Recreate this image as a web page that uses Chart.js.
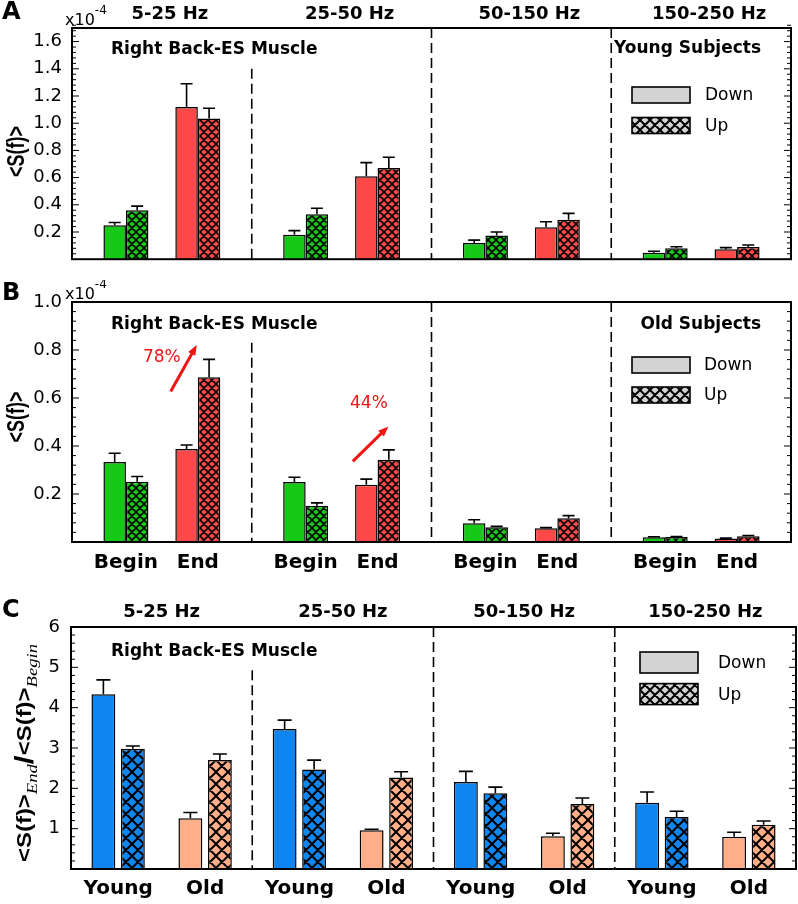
<!DOCTYPE html>
<html>
<head>
<meta charset="utf-8">
<script src="https://cdn.jsdelivr.net/npm/chart.js@4.4.1/dist/chart.umd.min.js"></script>
<style>
  body { margin: 0; background: #fff; }
  #page { position: relative; width: 798px; height: 904px; }
  .panel { position: absolute; left: 0; width: 798px; }
</style>
</head>
<body>
<div id="page">
  <div class="panel" style="top:0;height:280px"><canvas id="chartA"></canvas></div>
  <div class="panel" style="top:280px;height:300px"><canvas id="chartB"></canvas></div>
  <div class="panel" style="top:580px;height:324px"><canvas id="chartC"></canvas></div>
</div>
<script>
const bands = ["5-25 Hz", "25-50 Hz", "50-150 Hz", "150-250 Hz"];
const stageLabels = ["Begin", "End"];
const ageLabels = ["Young", "Old"];
const seriesLabels = ["Down", "Up"];

// panel A: young subjects, <S(f)> in units of 1e-4
const youngBeginDown = [0.25, 0.18, 0.12, 0.047];
const youngBeginUp = [0.36, 0.33, 0.175, 0.08];
const youngEndDown = [1.12, 0.61, 0.235, 0.073];
const youngEndUp = [1.035, 0.67, 0.29, 0.09];
const youngBeginDownErr = [0.02, 0.03, 0.02, 0.012];
const youngBeginUpErr = [0.03, 0.045, 0.025, 0.012];
const youngEndDownErr = [0.17, 0.10, 0.04, 0.012];
const youngEndUpErr = [0.075, 0.08, 0.047, 0.014];

// panel B: old subjects, <S(f)> in units of 1e-4
const oldBeginDown = [0.333, 0.25, 0.078, 0.02];
const oldBeginUp = [0.251, 0.151, 0.061, 0.021];
const oldEndDown = [0.387, 0.239, 0.057, 0.015];
const oldEndUp = [0.686, 0.343, 0.099, 0.024];
const oldBeginDownErr = [0.037, 0.02, 0.015, 0.002];
const oldBeginUpErr = [0.022, 0.012, 0.004, 0.002];
const oldEndDownErr = [0.017, 0.023, 0.003, 0.001];
const oldEndUpErr = [0.075, 0.041, 0.011, 0.003];

// panel C: <S(f)>End / <S(f)>Begin
const ratioYoungDown = [4.33, 3.47, 2.16, 1.64];
const ratioYoungUp = [2.98, 2.47, 1.88, 1.29];
const ratioOldDown = [1.26, 0.96, 0.81, 0.80];
const ratioOldUp = [2.70, 2.27, 1.61, 1.10];
const ratioYoungDownErr = [0.36, 0.22, 0.26, 0.27];
const ratioYoungUpErr = [0.07, 0.23, 0.15, 0.14];
const ratioOldDownErr = [0.14, 0.025, 0.075, 0.11];
const ratioOldUpErr = [0.15, 0.14, 0.15, 0.09];

// percent change notes in panel B (data units)
const noteTexts = ["78%", "44%"];
const noteTextPos = [[0.0, 0.751], [1.152, 0.56]];
const noteArrowFrom = [[0.049, 0.627], [1.062, 0.336]];
const noteArrowTo = [[0.194, 0.821], [1.26, 0.481]];

// tops of the dashed band separators
const dividerTopsA = [1.4, 1.7, 1.7];
const dividerTopsB = [0.83, 1.0, 1.0];
const dividerTopsC = [4.93, 6, 6];

const green = "#17c917";
const red = "#ff4848";
const blue = "#0f86ef";
const salmon = "#ffae87";
const grey = "#d3d3d3";
const sans = "'DejaVu Sans', sans-serif";

function hatch(color, size, lw) {
    const c = document.createElement("canvas");
    c.width = size;
    c.height = size;
    const g = c.getContext("2d");
    g.fillStyle = color;
    g.fillRect(0, 0, size, size);
    g.strokeStyle = "#000";
    g.lineWidth = lw;
    g.beginPath();
    for (let k = -1; k <= 1; k++) {
        g.moveTo(k * size, 0);
        g.lineTo(k * size + size, size);
        g.moveTo(k * size, size);
        g.lineTo(k * size + size, 0);
    }
    g.stroke();
    return g.createPattern(c, "repeat");
}

function clusterPoints(left, right, off) {
    const pts = [];
    left.forEach((v, i) => {
        pts.push({ x: i - off, y: v });
        pts.push({ x: i + off, y: right[i] });
    });
    return pts;
}

function interleave(left, right) {
    const out = [];
    left.forEach((v, i) => out.push(v, right[i]));
    return out;
}

function alternate(a, b) {
    return bands.flatMap(() => [a, b]);
}

function put(ctx, text, x, y, font, color, align) {
    ctx.font = font;
    ctx.fillStyle = color || "#000";
    ctx.textAlign = align || "left";
    ctx.textBaseline = "alphabetic";
    ctx.fillText(text, x, y);
}

function arrow(ctx, x1, y1, x2, y2, color) {
    const ang = Math.atan2(y2 - y1, x2 - x1);
    const head = 11;
    ctx.strokeStyle = color;
    ctx.fillStyle = color;
    ctx.lineWidth = 3;
    ctx.beginPath();
    ctx.moveTo(x1, y1);
    ctx.lineTo(x2 - head * 0.7 * Math.cos(ang), y2 - head * 0.7 * Math.sin(ang));
    ctx.stroke();
    ctx.beginPath();
    ctx.moveTo(x2, y2);
    ctx.lineTo(x2 - head * Math.cos(ang - 0.38), y2 - head * Math.sin(ang - 0.38));
    ctx.lineTo(x2 - head * Math.cos(ang + 0.38), y2 - head * Math.sin(ang + 0.38));
    ctx.closePath();
    ctx.fill();
}

function drawRatioTitle(ctx, cx, cy) {
    const parts = [
        { t: "<S(f)>", f: "bold 18px 'Liberation Sans'", dy: 0 },
        { t: "End", f: "italic 14px 'Liberation Serif'", dy: 5 },
        { t: "/", f: "bold 24px 'Liberation Sans'", dy: 2 },
        { t: "<S(f)>", f: "bold 18px 'Liberation Sans'", dy: 0 },
        { t: "Begin", f: "italic 14px 'Liberation Serif'", dy: 5 }
    ];
    ctx.save();
    ctx.translate(cx, cy);
    ctx.rotate(-Math.PI / 2);
    ctx.scale(1.33, 1.1);
    let total = 0;
    parts.forEach(p => {
        ctx.font = p.f;
        p.w = ctx.measureText(p.t).width;
        total += p.w;
    });
    let x = -total / 2;
    ctx.fillStyle = "#000";
    ctx.textAlign = "left";
    ctx.textBaseline = "alphabetic";
    parts.forEach(p => {
        ctx.font = p.f;
        ctx.fillText(p.t, x, p.dy);
        x += p.w;
    });
    ctx.restore();
}

// error bars, frame with inner ticks, legend and labels
const decor = {
    id: "decor",
    afterDatasetsDraw(chart, args, o) {
        const ctx = chart.ctx;
        const a = chart.chartArea;
        const xs = chart.scales.x;
        const ys = chart.scales.y;
        ctx.save();

        chart.data.datasets.forEach((ds, di) => {
            if (!ds.errors) return;
            const meta = chart.getDatasetMeta(di);
            meta.data.forEach((bar, i) => {
                const top = ys.getPixelForValue(ds.data[i].y + ds.errors[i]);
                ctx.beginPath();
                ctx.moveTo(bar.x, bar.y);
                ctx.lineTo(bar.x, top);
                ctx.moveTo(bar.x - o.cap, top);
                ctx.lineTo(bar.x + o.cap, top);
                ctx.lineWidth = 1.6;
                ctx.strokeStyle = "#000";
                ctx.stroke();
            });
        });

        ctx.strokeStyle = "#000";
        ctx.lineWidth = 2;
        ctx.strokeRect(a.left, a.top, a.right - a.left, a.bottom - a.top);
        ctx.lineWidth = 1;
        ctx.beginPath();
        const n = Math.round(ys.max / o.minor);
        for (let k = 1; k <= n; k++) {
            const v = k * o.minor;
            const y = ys.getPixelForValue(v);
            const r = v / o.major;
            const len = Math.abs(r - Math.round(r)) < 1e-6 ? 7 : 4;
            ctx.moveTo(a.left, y);
            ctx.lineTo(a.left + len, y);
            ctx.moveTo(a.right, y);
            ctx.lineTo(a.right - len, y);
        }
        ctx.stroke();

        // legend inside the plot
        const L = o.legend;
        const names = chart.data.datasets.filter(d => d.type === "bar").map(d => d.label);
        const fills = [grey, hatch(grey, 10, 2)];
        names.forEach((name, k) => {
            const lx = a.right - L.dx;
            const ly = a.top + L.dy + k * L.gap;
            ctx.fillStyle = fills[k];
            ctx.fillRect(lx, ly, L.w, L.h);
            ctx.lineWidth = 1.6;
            ctx.strokeStyle = "#000";
            ctx.strokeRect(lx, ly, L.w, L.h);
            ctx.font = "17px " + sans;
            ctx.fillStyle = "#000";
            ctx.textAlign = "left";
            ctx.textBaseline = "middle";
            ctx.fillText(name, lx + L.w + L.textGap, ly + L.h / 2 + 1);
        });

        put(ctx, o.letter, 2, o.letterY, "bold 24px " + sans);
        if (o.bandDy !== null) {
            bands.forEach((b, i) => {
                put(ctx, b, xs.getPixelForValue(i) + o.bandDx, a.top + o.bandDy, "bold 18px " + sans, "#000", "center");
            });
        }
        put(ctx, "Right Back-ES Muscle", a.left + o.muscleDx, a.top + o.muscleDy, "bold 17px " + sans);
        if (o.group) {
            put(ctx, o.group, a.right - 30, a.top + o.groupDy, "bold 17px " + sans, "#000", "right");
        }
        if (o.exponent) {
            put(ctx, "x10", a.left - 7, a.top - 3, "16px " + sans);
            ctx.font = "16px " + sans;
            const w = ctx.measureText("x10").width;
            put(ctx, "-4", a.left - 7 + w, a.top - 14, "12px " + sans);
        }

        const mid = (a.top + a.bottom) / 2 + o.titleDy;
        if (o.ratioTitle) {
            drawRatioTitle(ctx, 31, mid);
        } else {
            ctx.save();
            ctx.translate(17, mid);
            ctx.rotate(-Math.PI / 2);
            ctx.scale(1, 1.35);
            ctx.font = "bold 18px 'Liberation Sans'";
            ctx.fillStyle = "#000";
            ctx.textAlign = "center";
            ctx.textBaseline = "middle";
            ctx.fillText("<S(f)>", 0, 0);
            ctx.restore();
        }

        if (o.notes) {
            noteTexts.forEach((t, k) => {
                put(ctx, t, xs.getPixelForValue(noteTextPos[k][0]), ys.getPixelForValue(noteTextPos[k][1]), "17px " + sans, "#f01414", "center");
                arrow(ctx,
                    xs.getPixelForValue(noteArrowFrom[k][0]), ys.getPixelForValue(noteArrowFrom[k][1]),
                    xs.getPixelForValue(noteArrowTo[k][0]), ys.getPixelForValue(noteArrowTo[k][1]), "#f01414");
            });
        }
        ctx.restore();
    }
};

function dividerSets(tops) {
    return tops.map((t, i) => ({
        type: "line",
        data: [{ x: i + 0.5, y: t }, { x: i + 0.5, y: 0 }],
        borderColor: "#000",
        borderWidth: 1.6,
        borderDash: [10, 5],
        pointRadius: 0,
        fill: false,
        order: 5
    }));
}

function makePanel(id, p) {
    const positions = bands.flatMap((b, i) => [i - p.off, i + p.off]);
    const barBase = {
        type: "bar",
        borderColor: "#000",
        borderWidth: 1.5,
        categoryPercentage: p.cp,
        barPercentage: p.bp,
        order: 1
    };
    const datasets = [
        Object.assign({}, barBase, {
            label: seriesLabels[0],
            data: clusterPoints(p.down[0], p.down[1], p.off),
            errors: interleave(p.downErr[0], p.downErr[1]),
            backgroundColor: alternate(p.colors[0], p.colors[1])
        }),
        Object.assign({}, barBase, {
            label: seriesLabels[1],
            data: clusterPoints(p.up[0], p.up[1], p.off),
            errors: interleave(p.upErr[0], p.upErr[1]),
            backgroundColor: alternate(hatch(p.colors[0], p.hatch, p.hatchLw), hatch(p.colors[1], p.hatch, p.hatchLw))
        })
    ].concat(dividerSets(p.dividers));

    return new Chart(document.getElementById(id), {
        type: "bar",
        data: { datasets: datasets },
        options: {
            responsive: true,
            maintainAspectRatio: false,
            animation: false,
            events: [],
            layout: { padding: p.padding },
            plugins: {
                legend: { display: false },
                tooltip: { enabled: false },
                decor: p.decor
            },
            scales: {
                x: {
                    type: "linear",
                    min: -0.5,
                    max: bands.length - 0.5,
                    offset: false,
                    display: p.xLabels !== null,
                    grid: { display: false, drawTicks: false },
                    border: { display: false },
                    afterBuildTicks: axis => { axis.ticks = positions.map(v => ({ value: v })); },
                    afterFit: axis => { if (p.xHeight) axis.height = p.xHeight; },
                    ticks: {
                        autoSkip: false,
                        maxRotation: 0,
                        padding: p.xPad,
                        color: "#000",
                        font: { family: sans, size: 20, weight: "bold" },
                        callback: (v, i) => p.xLabels ? p.xLabels[i % 2] : ""
                    }
                },
                y: {
                    min: 0,
                    max: p.yMax,
                    grid: { display: false, drawTicks: false },
                    border: { display: false },
                    afterFit: axis => { axis.width = p.yWidth; },
                    ticks: {
                        stepSize: p.yStep,
                        includeBounds: false,
                        autoSkip: false,
                        padding: p.yPad,
                        color: "#000",
                        font: { family: sans, size: 18 },
                        callback: v => v === 0 ? "" : v.toFixed(p.decimals)
                    }
                }
            }
        },
        plugins: [decor]
    });
}

makePanel("chartA", {
    off: 0.2, cp: 0.626, bp: 1.0, hatch: 8, hatchLw: 1.6,
    colors: [green, red],
    down: [youngBeginDown, youngEndDown], up: [youngBeginUp, youngEndUp],
    downErr: [youngBeginDownErr, youngEndDownErr], upErr: [youngBeginUpErr, youngEndUpErr],
    dividers: dividerTopsA,
    padding: { top: 28, right: 7, bottom: 12, left: 0 },
    xLabels: null, xHeight: 0, xPad: 0,
    yMax: 1.7, yStep: 0.2, decimals: 1, yWidth: 72, yPad: 10,
    decor: {
        letter: "A", letterY: 19, bandDy: -9, bandDx: 8,
        muscleDx: 39, muscleDy: 26, group: "Young Subjects", groupDy: 25,
        exponent: true, ratioTitle: false, titleDy: 8, notes: false,
        major: 0.2, minor: 0.04, cap: 6,
        legend: { dx: 159, dy: 59, w: 58, h: 16, gap: 30.5, textGap: 15 }
    }
});

makePanel("chartB", {
    off: 0.2, cp: 0.626, bp: 1.0, hatch: 8, hatchLw: 1.6,
    colors: [green, red],
    down: [oldBeginDown, oldEndDown], up: [oldBeginUp, oldEndUp],
    downErr: [oldBeginDownErr, oldEndDownErr], upErr: [oldBeginUpErr, oldEndUpErr],
    dividers: dividerTopsB,
    padding: { top: 22, right: 7, bottom: 0, left: 0 },
    xLabels: stageLabels, xHeight: 38, xPad: 9,
    yMax: 1.0, yStep: 0.2, decimals: 1, yWidth: 72, yPad: 10,
    decor: {
        letter: "B", letterY: 20, bandDy: null, bandDx: 0,
        muscleDx: 39, muscleDy: 27, group: "Old Subjects", groupDy: 27,
        exponent: true, ratioTitle: false, titleDy: -5, notes: true,
        major: 0.2, minor: 0.04, cap: 6,
        legend: { dx: 159, dy: 55, w: 58, h: 16, gap: 30, textGap: 14 }
    }
});

makePanel("chartC", {
    off: 0.24, cp: 0.678, bp: 0.81, hatch: 12, hatchLw: 2,
    colors: [blue, salmon],
    down: [ratioYoungDown, ratioOldDown], up: [ratioYoungUp, ratioOldUp],
    downErr: [ratioYoungDownErr, ratioOldDownErr], upErr: [ratioYoungUpErr, ratioOldUpErr],
    dividers: dividerTopsC,
    padding: { top: 47, right: 2, bottom: 0, left: 0 },
    xLabels: ageLabels, xHeight: 35, xPad: 8,
    yMax: 6, yStep: 1, decimals: 0, yWidth: 71, yPad: 11,
    decor: {
        letter: "C", letterY: 37, bandDy: -10, bandDx: 0,
        muscleDx: 40, muscleDy: 29, group: null, groupDy: 0,
        exponent: false, ratioTitle: true, titleDy: 5, notes: false,
        major: 1, minor: 0.2, cap: 7,
        legend: { dx: 156, dy: 25, w: 58, h: 21, gap: 31.6, textGap: 20 }
    }
});
</script>
</body>
</html>
